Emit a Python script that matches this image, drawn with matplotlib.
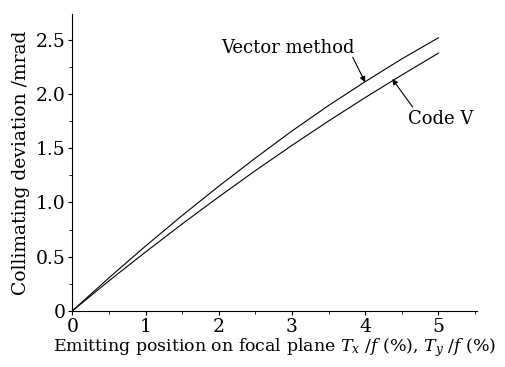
import matplotlib
matplotlib.use("Agg")
import matplotlib.pyplot as plt
from matplotlib.ticker import MultipleLocator, FuncFormatter

# values
x = [0, 0.5, 1.0, 1.5, 2.0, 2.5, 3.0, 3.5, 4.0, 4.5, 5.0]
vector_method = [0, 0.305, 0.598, 0.880, 1.150, 1.410, 1.660, 1.895, 2.115, 2.325, 2.520]
code_v = [0, 0.277, 0.543, 0.802, 1.052, 1.294, 1.527, 1.752, 1.968, 2.176, 2.378]

plt.rcParams['font.family'] = ['DejaVu Serif']
plt.rcParams['mathtext.fontset'] = 'dejavuserif'

fig = plt.figure(figsize=(5.06, 3.67), dpi=100)
ax = fig.add_axes([0.143, 0.153, 0.80, 0.809])

ax.plot(x, vector_method, color='black', lw=0.8)
ax.plot(x, code_v, color='black', lw=0.8)

ax.set_xlim(0, 5.53)
ax.set_ylim(0, 2.74)
ax.spines['top'].set_visible(False)
ax.spines['right'].set_visible(False)
ax.spines['left'].set_linewidth(0.8)
ax.spines['bottom'].set_linewidth(0.8)

ax.xaxis.set_major_locator(MultipleLocator(1))
ax.xaxis.set_minor_locator(MultipleLocator(0.5))
ax.yaxis.set_major_locator(MultipleLocator(0.5))
ax.yaxis.set_minor_locator(MultipleLocator(0.25))
ax.yaxis.set_major_formatter(FuncFormatter(lambda v, p: '0' if v == 0 else f'{v:.1f}'))
ax.tick_params(which='major', direction='out', length=3, width=0.8, labelsize=13.5, pad=2)
ax.tick_params(which='minor', direction='out', length=2, width=0.6)

ax.set_xlabel(r'Emitting position on focal plane $T_x$ /$f$ (%), $T_y$ /$f$ (%)', fontsize=12.5, labelpad=0)
ax.set_ylabel('Collimating deviation /mrad', fontsize=13.5, labelpad=4)

arrow = dict(arrowstyle='-|>', color='black', lw=0.8, mutation_scale=8, shrinkA=0, shrinkB=0)
ax.text(2.94, 2.43, 'Vector method', fontsize=13, ha='center', va='center')
ax.annotate('', xy=(4.0, 2.11), xytext=(3.83, 2.34), arrowprops=arrow)
ax.text(5.03, 1.77, 'Code V', fontsize=13, ha='center', va='center')
ax.annotate('', xy=(4.37, 2.14), xytext=(4.65, 1.88), arrowprops=arrow)

fig.savefig('out.png', dpi=100)
